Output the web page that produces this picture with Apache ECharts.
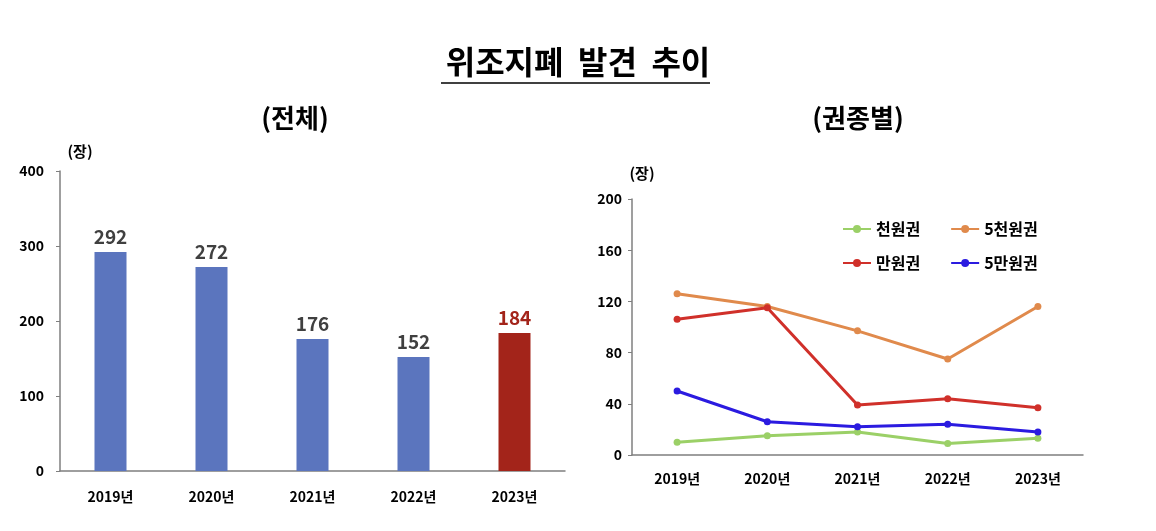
<!DOCTYPE html>
<html>
<head>
<meta charset="utf-8">
<script src="https://cdn.jsdelivr.net/npm/echarts@6/dist/echarts.min.js"></script>
<style>
html, body { margin: 0; padding: 0; background: #fff; }
#main { width: 1156px; height: 531px; }
</style>
</head>
<body>
<div id="main"></div>
<script>
// 연도
var years = ['2019년', '2020년', '2021년', '2022년', '2023년'];
// 전체 발견 장수
var totalCounts = [292, 272, 176, 152, 184];
// 권종별 발견 장수
var won1000 = [10, 15, 18, 9, 13];
var won5000 = [126, 116, 97, 75, 116];
var won10000 = [106, 115, 39, 44, 37];
var won50000 = [50, 26, 22, 24, 18];

var FONT = '"Noto Sans CJK KR", "Noto Sans", sans-serif';
var axisColor = '#7f7f7f';

var myChart = echarts.init(document.getElementById('main'));

// 막대 데이터 (마지막 해는 빨간색)
var barData = totalCounts.map(function (v, i) {
    var last = i === totalCounts.length - 1;
    return {
        value: v,
        itemStyle: { color: last ? '#A3241A' : '#5B75BE' },
        label: { color: last ? '#A3241A' : '#404040' }
    };
});

function lineSeries(name, data, color) {
    return {
        name: name,
        type: 'line',
        xAxisIndex: 1,
        yAxisIndex: 1,
        data: data,
        symbol: 'circle',
        symbolSize: 7,
        lineStyle: { width: 3, color: color },
        itemStyle: { color: color }
    };
}

var option = {
    backgroundColor: '#fff',
    textStyle: { fontFamily: FONT },
    graphic: [
        { type: 'text', left: 'center', top: 46, style: { text: '위조지폐  발견  추이', font: 'bold 32px ' + FONT, fill: '#000' } },
        { type: 'rect', shape: { x: 441, y: 82, width: 269, height: 2 }, style: { fill: '#404040' } },
        { type: 'text', x: 295, y: 118, style: { text: '(전체)', font: 'bold 26px ' + FONT, fill: '#000', align: 'center', verticalAlign: 'middle' } },
        { type: 'text', x: 858, y: 118, style: { text: '(권종별)', font: 'bold 26px ' + FONT, fill: '#000', align: 'center', verticalAlign: 'middle' } },
        { type: 'text', x: 80, y: 151, style: { text: '(장)', font: 'bold 15px ' + FONT, fill: '#000', align: 'center', verticalAlign: 'middle' } },
        { type: 'text', x: 642, y: 173, style: { text: '(장)', font: 'bold 15px ' + FONT, fill: '#000', align: 'center', verticalAlign: 'middle' } }
    ],
    legend: [{
        left: 837, top: 216,
        data: ['천원권', '5천원권'],
        itemWidth: 28, itemHeight: 10, itemGap: 30,
        textStyle: { fontFamily: FONT, fontWeight: 'bold', fontSize: 16, color: '#000' }
    }, {
        left: 837, top: 250,
        data: ['만원권', '5만원권'],
        itemWidth: 28, itemHeight: 10, itemGap: 30,
        textStyle: { fontFamily: FONT, fontWeight: 'bold', fontSize: 16, color: '#000' }
    }],
    grid: [
        { left: 60, right: 591, top: 171, bottom: 60 },
        { left: 632, right: 73, top: 199, bottom: 76 }
    ],
    xAxis: [{
        type: 'category', gridIndex: 0, data: years,
        axisLine: { lineStyle: { color: axisColor, width: 1.5 } },
        axisTick: { show: false },
        axisLabel: { color: '#000', fontWeight: 'bold', fontSize: 14, margin: 19, fontFamily: FONT }
    }, {
        type: 'category', gridIndex: 1, data: years,
        axisLine: { lineStyle: { color: axisColor, width: 1.5 } },
        axisTick: { show: false },
        axisLabel: { color: '#000', fontWeight: 'bold', fontSize: 14, margin: 17, fontFamily: FONT }
    }],
    yAxis: [{
        type: 'value', gridIndex: 0, min: 0, max: 400, interval: 100,
        axisLine: { show: true, lineStyle: { color: axisColor, width: 1.5 } },
        axisTick: { show: true, length: 4, lineStyle: { color: axisColor } },
        splitLine: { show: false },
        axisLabel: { color: '#000', fontWeight: 'bold', fontSize: 14, margin: 16, fontFamily: FONT }
    }, {
        type: 'value', gridIndex: 1, min: 0, max: 200, interval: 40,
        axisLine: { show: true, lineStyle: { color: axisColor, width: 1.5 } },
        axisTick: { show: true, length: 4, lineStyle: { color: axisColor } },
        splitLine: { show: false },
        axisLabel: { color: '#000', fontWeight: 'bold', fontSize: 14, margin: 10, fontFamily: FONT }
    }],
    series: [{
        name: '전체',
        type: 'bar',
        xAxisIndex: 0,
        yAxisIndex: 0,
        data: barData,
        barWidth: 32,
        label: {
            show: true, position: 'top', distance: 6,
            fontWeight: 'bold', fontSize: 19, fontFamily: FONT
        }
    },
        lineSeries('천원권', won1000, '#9BD067'),
        lineSeries('5천원권', won5000, '#E08A4C'),
        lineSeries('만원권', won10000, '#D0302A'),
        lineSeries('5만원권', won50000, '#2B1BE0')
    ]
};
myChart.setOption(option);
</script>
</body>
</html>
